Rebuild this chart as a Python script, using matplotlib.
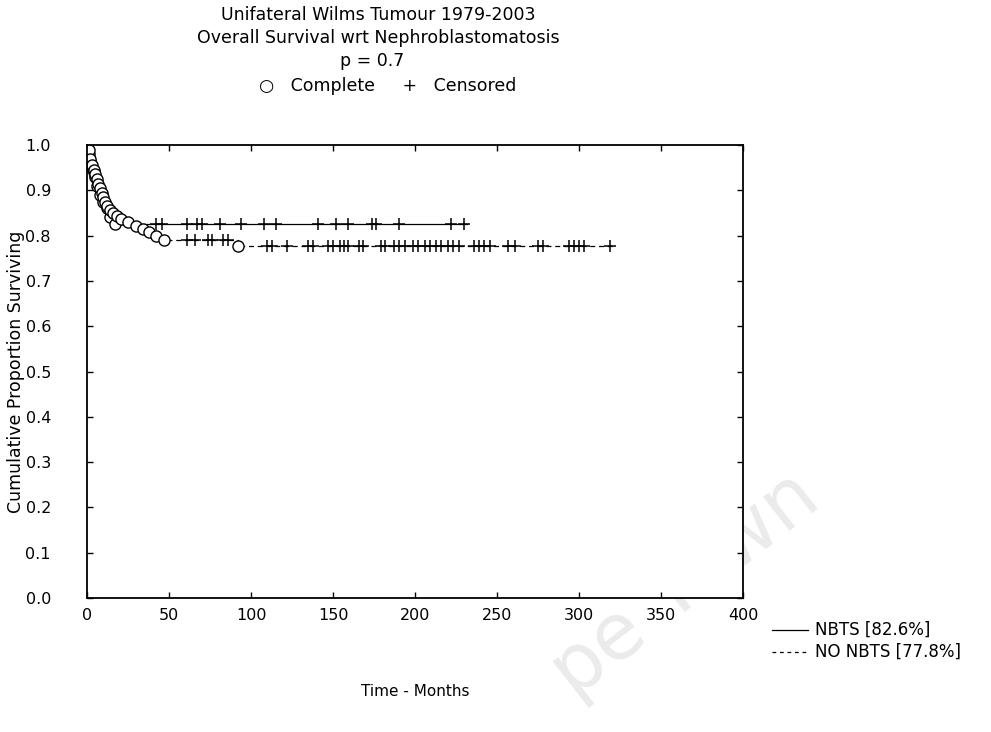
import matplotlib
matplotlib.use('Agg')
import matplotlib.pyplot as plt
import numpy as np

plt.rcParams['font.family'] = ['DejaVu Sans']

# Kaplan-Meier: NBTS
nbts_event_t = [0, 1, 2, 3, 4, 5, 6, 8, 10, 12, 14, 17]
nbts_event_s = [1.0, 0.98, 0.965, 0.95, 0.94, 0.93, 0.91, 0.89, 0.875, 0.86, 0.84, 0.826]
nbts_cens_t = [42, 46, 61, 67, 70, 81, 94, 108, 115, 141, 152, 159,
               174, 176, 190, 222, 230]
nbts_end = 232

# Kaplan-Meier: NO NBTS
nonbts_event_t = [0, 1, 2, 3, 4, 5, 6, 7, 8, 9, 10, 11, 12, 14, 16, 18,
                  21, 25, 30, 34, 38, 42, 47, 92]
nonbts_event_s = [1.0, 0.99, 0.97, 0.955, 0.945, 0.935, 0.925, 0.915, 0.905,
                  0.895, 0.885, 0.875, 0.865, 0.857, 0.85, 0.843, 0.836,
                  0.83, 0.822, 0.815, 0.808, 0.80, 0.79, 0.778]
nonbts_cens_t = [61, 66, 74, 76, 83, 86, 110, 113, 122, 135, 138, 147, 150,
                 154, 157, 159, 166, 168, 179, 182, 187, 190, 194, 199, 202,
                 206, 209, 213, 216, 220, 223, 227, 236, 239, 242, 246, 257,
                 261, 275, 278, 294, 297, 300, 303, 319]
nonbts_end = 321

labels = ['NBTS [82.6%]', 'NO NBTS [77.8%]']


def step_value(times, surv, t):
    idx = np.searchsorted(times, t, side='right') - 1
    return np.asarray(surv)[idx]


fig = plt.figure(figsize=(9.91, 7.32), dpi=100)
ax = fig.add_axes([87 / 991, 1 - 598 / 732, (743 - 87) / 991, (598 - 145) / 732])

curves = [
    (nbts_event_t, nbts_event_s, nbts_cens_t, nbts_end, '-'),
    (nonbts_event_t, nonbts_event_s, nonbts_cens_t, nonbts_end, (0, (4, 3))),
]
for ev_t, ev_s, c_t, t_end, ls in curves:
    xs = list(ev_t) + [t_end]
    ys = list(ev_s) + [ev_s[-1]]
    ax.step(xs, ys, where='post', color='black', lw=0.9, ls=ls)
    ax.plot(ev_t[1:], ev_s[1:], 'o', mfc='white', mec='black', ms=8, mew=1.0)
    ax.plot(c_t, step_value(ev_t, ev_s, c_t), '+', color='black', ms=9, mew=1.1)

ax.set_xlim(0, 400)
ax.set_ylim(0, 1.0)
ax.set_xticks(np.arange(0, 401, 50))
ax.set_yticks(np.arange(0, 1.01, 0.1))
ax.set_yticklabels([f'{v:.1f}' for v in np.arange(0, 1.01, 0.1)])
ax.tick_params(direction='in', top=True, right=True, length=4, width=1,
               labelsize=11.5)
ax.tick_params(axis='x', pad=7)
ax.tick_params(axis='y', pad=26)
for sp in ax.spines.values():
    sp.set_linewidth(1.3)

ax.set_xlabel('Time - Months', fontsize=11, labelpad=44)
ax.set_ylabel('Cumulative Proportion Surviving', fontsize=12.5, labelpad=0)

# titles
fig.text(378 / 991, 1 - 15 / 732, 'Unifateral Wilms Tumour 1979-2003', ha='center', va='center', fontsize=12.5)
fig.text(378 / 991, 1 - 38 / 732, 'Overall Survival wrt Nephroblastomatosis', ha='center', va='center', fontsize=12.5)
fig.text(372 / 991, 1 - 61 / 732, 'p = 0.7', ha='center', va='center', fontsize=12.5)
fig.text(388 / 991, 1 - 86 / 732, '\u25cb   Complete     +   Censored', ha='center', va='center', fontsize=12.5)

# legend at lower right
for i, (lab, ls) in enumerate(zip(labels, ['-', (0, (3, 3))])):
    y = 1 - (630 + 22 * i) / 732
    fig.add_artist(plt.Line2D([772 / 991, 808 / 991], [y, y], color='black', lw=0.9, ls=ls))
    fig.text(815 / 991, y, lab, ha='left', va='center', fontsize=12)

# faint watermark
fig.text(685 / 991, 1 - 585 / 732, 'pe Town', rotation=38, fontsize=56,
         color='#ebebeb', ha='center', va='center', zorder=-1)

fig.savefig('out.png', dpi=100)
